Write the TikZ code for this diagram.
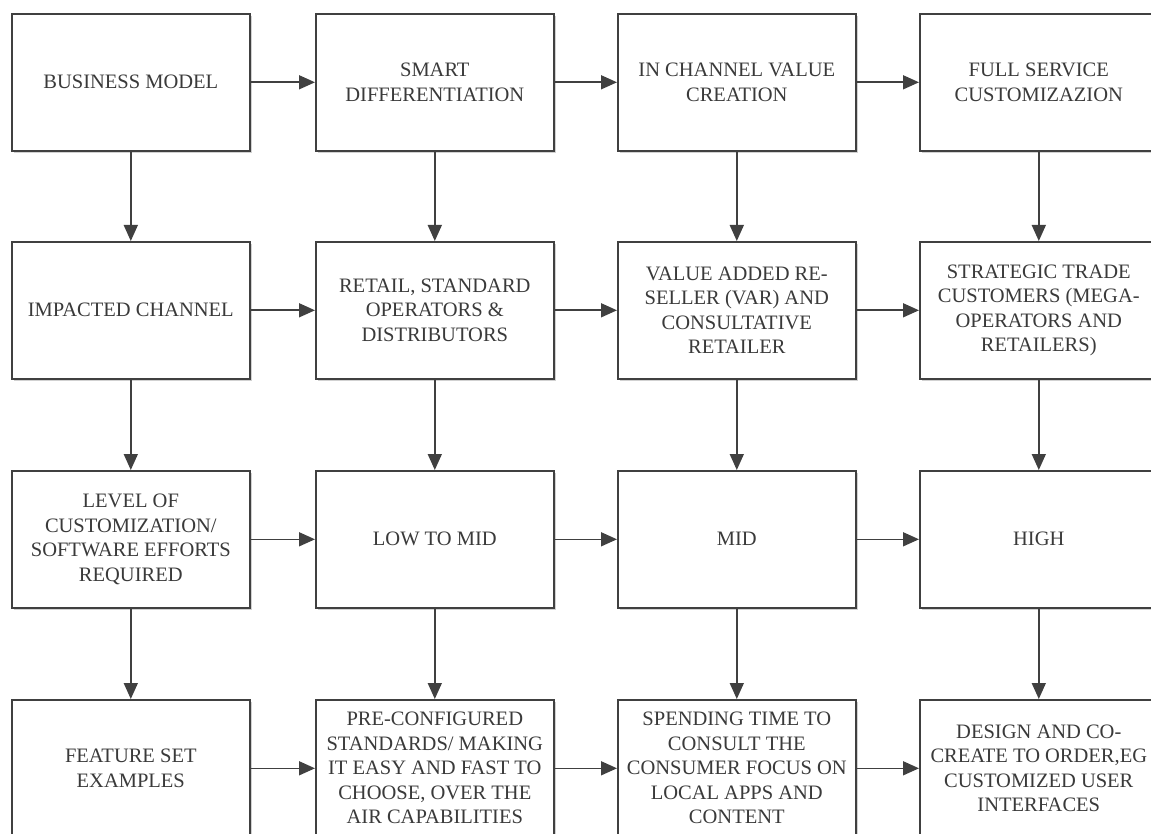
\documentclass[tikz,border=0pt]{standalone}
\usepackage{fontspec}
\setmainfont{Liberation Serif}
\usetikzlibrary{arrows.meta,shadows}
\definecolor{ink}{HTML}{404040}
\definecolor{txt}{HTML}{3A3A3A}
\begin{document}
\begin{tikzpicture}[x=1pt,y=1pt,
  box/.style={draw=ink, line width=1.6pt, fill=white, anchor=north west,
    minimum width=238pt, minimum height=137pt, inner sep=2pt,
    align=center, text=txt, font=\fontsize{20.5}{24.5}\selectfont,
    drop shadow={shadow xshift=2.5pt, shadow yshift=-2.5pt, fill=black!18, opacity=1}},
  flow/.style={draw=ink, line width=1.6pt,
    -{Triangle[length=16pt,width=14pt]}}]
\useasboundingbox (0,0) rectangle (1151,-834);
% column lefts: 11, 315, 617, 919 ; row tops: 13, 241, 470, 699
\node[box] (a1) at (11,-13)  {BUSINESS MODEL};
\node[box] (a2) at (315,-13) {SMART\\DIFFERENTIATION};
\node[box] (a3) at (617,-13) {IN CHANNEL VALUE\\CREATION};
\node[box] (a4) at (919,-13) {FULL SERVICE\\CUSTOMIZAZION};

\node[box] (b1) at (11,-241)  {IMPACTED CHANNEL};
\node[box] (b2) at (315,-241) {RETAIL, STANDARD\\OPERATORS \&\\DISTRIBUTORS};
\node[box] (b3) at (617,-241) {VALUE ADDED RE-\\SELLER (VAR) AND\\CONSULTATIVE\\RETAILER};
\node[box] (b4) at (919,-241) {STRATEGIC TRADE\\CUSTOMERS (MEGA-\\OPERATORS AND\\RETAILERS)};

\node[box] (c1) at (11,-470)  {LEVEL OF\\CUSTOMIZATION/\\SOFTWARE EFFORTS\\REQUIRED};
\node[box] (c2) at (315,-470) {LOW TO MID};
\node[box] (c3) at (617,-470) {MID};
\node[box] (c4) at (919,-470) {HIGH};

\node[box] (d1) at (11,-699)  {FEATURE SET\\EXAMPLES};
\node[box] (d2) at (315,-699) {PRE-CONFIGURED\\STANDARDS/ MAKING\\IT EASY AND FAST TO\\CHOOSE, OVER THE\\AIR CAPABILITIES};
\node[box] (d3) at (617,-699) {SPENDING TIME TO\\CONSULT THE\\CONSUMER FOCUS ON\\LOCAL APPS AND\\CONTENT};
\node[box] (d4) at (919,-699) {DESIGN AND CO-\\CREATE TO ORDER,EG\\CUSTOMIZED USER\\INTERFACES};

% horizontal links
\foreach \r in {a,b,c,d}{
  \draw[flow] (\r1.east) -- (\r2.west);
  \draw[flow] (\r2.east) -- (\r3.west);
  \draw[flow] (\r3.east) -- (\r4.west);
}
% vertical links
\foreach \c in {1,2,3,4}{
  \draw[flow] (a\c.south) -- (b\c.north);
  \draw[flow] (b\c.south) -- (c\c.north);
  \draw[flow] (c\c.south) -- (d\c.north);
}
\end{tikzpicture}
\end{document}
